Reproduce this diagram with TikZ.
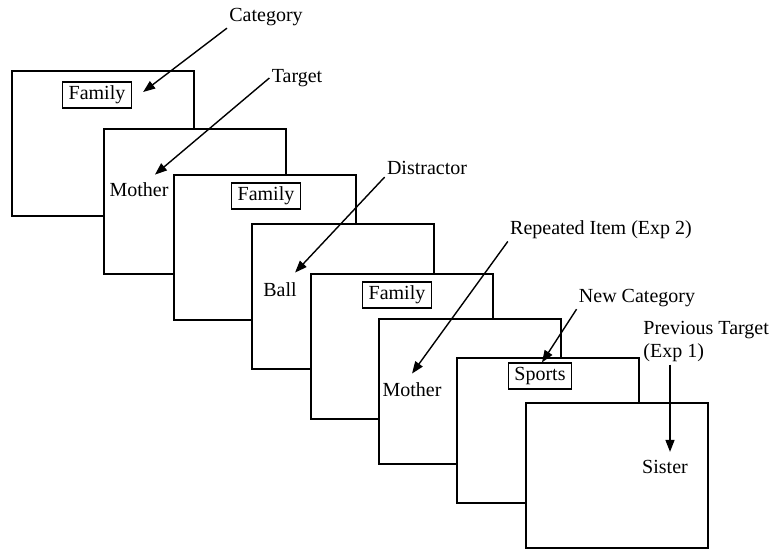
\documentclass[tikz,border=0pt]{standalone}
\usepackage{fontspec}
\setmainfont{Liberation Serif}
\usetikzlibrary{arrows.meta, positioning}
\begin{document}
\begin{tikzpicture}[
        x=0.5pt, y=-0.5pt,
        >={Triangle[length=6pt, width=4.5pt]},
        frame/.style={draw, rectangle, line width=0.8pt, fill=white,
            minimum width=91pt, minimum height=72.5pt, inner sep=0pt, anchor=north west},
        cue/.style={draw, rectangle, line width=0.8pt, inner xsep=3pt, inner ysep=2pt,
            font=\fontsize{10}{12}\selectfont},
        word/.style={inner sep=1pt, font=\fontsize{10}{12}\selectfont},
        note/.style={inner sep=1pt, font=\fontsize{10}{11.5}\selectfont},
        line/.style={draw, line width=0.7pt, ->},
    ]
        \useasboundingbox (0,0) rectangle (780,549);

        \foreach \n/\x/\y in {1/11/70, 2/103/128, 3/173/174, 4/251/223,
                5/310/273, 6/378/318, 7/456/357, 8/525/402}
            \node[frame] (f\n) at (\x,\y) {};

        \node[cue] (fam1) at (97,95) {Family};
        \node[word] (moth1) at (139,190) {Mother};
        \node[cue] (fam3) at (266,196) {Family};
        \node[word] (ball) at (280,290) {Ball};
        \node[cue] (fam5) at (397,295) {Family};
        \node[word] (moth6) at (412,390) {Mother};
        \node[cue] (sports) at (540,376) {Sports};
        \node[word] (sister) at (665,467) {Sister};

        \node[note] (cat) at (266,17) {Category};
        \node[note] (target) at (297,78) {Target};
        \node[note] (dist) at (427,168) {Distractor};
        \node[note] (rep) at (601,230) {Repeated Item (Exp 2)};
        \node[note] (newcat) at (637,298) {New Category};
        \node[note, anchor=west, align=left] (prev) at (641,342)
            {Previous Target\\(Exp 1)};

        \path[line] (cat.south west) -- ([shift={(11,-3)}]fam1.east);
        \path[line] (target.west) -- ([shift={(16,-6)}]moth1.north);
        \path[line] (dist.south west) -- ([shift={(-4,-8)}]ball.north east);
        \path[line] (rep.south west) -- ([shift={(0,-7)}]moth6.north);
        \path[line] (newcat.south west) -- ([shift={(2,0)}]sports.north);
        \path[line, shorten >=3pt] ([xshift=14.5pt]prev.south west)
            -- ([xshift=14.5pt]prev.south west |- sister.north);
    \end{tikzpicture}
\end{document}
